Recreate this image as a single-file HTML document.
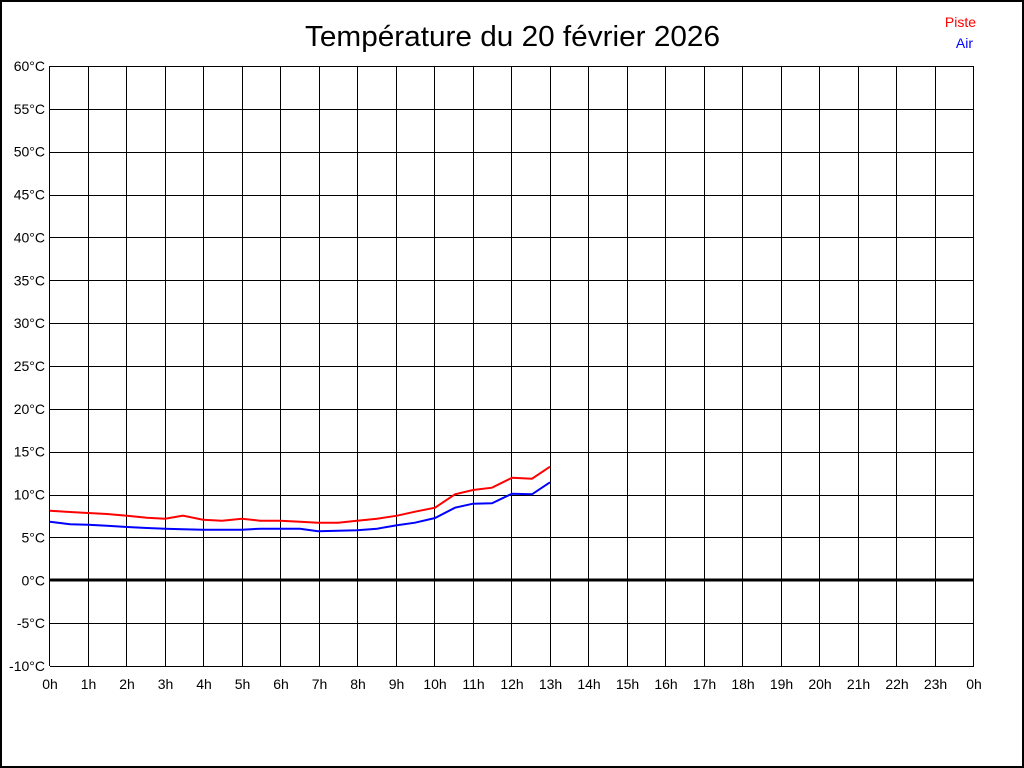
<!DOCTYPE html>
<html><head><meta charset="utf-8"><style>html,body{margin:0;padding:0;background:#fff}svg{display:block}</style></head>
<body>
<svg width="1024" height="768" xmlns="http://www.w3.org/2000/svg" font-family="Liberation Sans, Arial, sans-serif">
<rect x="1" y="1" width="1022" height="766" fill="#fff" stroke="#000" stroke-width="2"/>
<text x="512.5" y="46" font-size="29" text-anchor="middle" textLength="415" lengthAdjust="spacingAndGlyphs">Température du 20 février 2026</text>
<text x="976" y="27" font-size="14" fill="#f00" text-anchor="end">Piste</text>
<text x="973" y="48" font-size="14" fill="#00f" text-anchor="end">Air</text>
<g stroke="#000" stroke-width="1" shape-rendering="crispEdges" id="grid"></g>
<g font-size="14" fill="#000" id="labels"></g>
<line x1="50" y1="580" x2="974" y2="580" stroke="#000" stroke-width="3"/>
<polyline fill="none" stroke="#f00" stroke-width="2" points="50,510.7 70,512 88,513 107,514 127,515.7 147,517.7 165,518.7 183,515.7 203,519.7 222,520.7 242,518.7 260,520.7 280,520.7 300,521.7 318,522.7 338,522.7 357,520.7 377,518.7 397,515.7 415,511.7 435,507.7 455,494.3 473,490 492,487.7 512,477.7 532,478.7 550,466.7"/>
<polyline fill="none" stroke="#00f" stroke-width="2" points="50,521.7 70,524.3 88,524.7 107,525.7 127,527 147,528 165,528.7 183,529.3 203,529.7 222,529.7 242,529.7 260,528.7 280,528.7 300,528.7 318,531.3 338,530.7 357,530.3 377,528.7 397,525.3 415,522.7 435,518 455,507.7 473,503.7 492,503.3 512,493.7 532,494.3 550,482.3"/>
<script>
var g=document.getElementById('grid'),L=document.getElementById('labels'),ns='http://www.w3.org/2000/svg';
function el(p,t,a,txt){var e=document.createElementNS(ns,t);for(var k in a)e.setAttribute(k,a[k]);if(txt!=null)e.textContent=txt;p.appendChild(e);}
for(var i=0;i<=14;i++){var y=66+i*600/14;el(g,'line',{x1:50,x2:974,y1:Math.round(y)+.5,y2:Math.round(y)+.5});
el(L,'text',{x:45,y:y+5,'text-anchor':'end'},(60-5*i)+'°C');}
for(var h=0;h<=24;h++){var x=50+h*38.5;el(g,'line',{x1:Math.round(x)-.5,x2:Math.round(x)-.5,y1:66,y2:666});
el(L,'text',{x:x,y:689,'text-anchor':'middle'},(h%24)+'h');}
</script>
</svg>
</body></html>
